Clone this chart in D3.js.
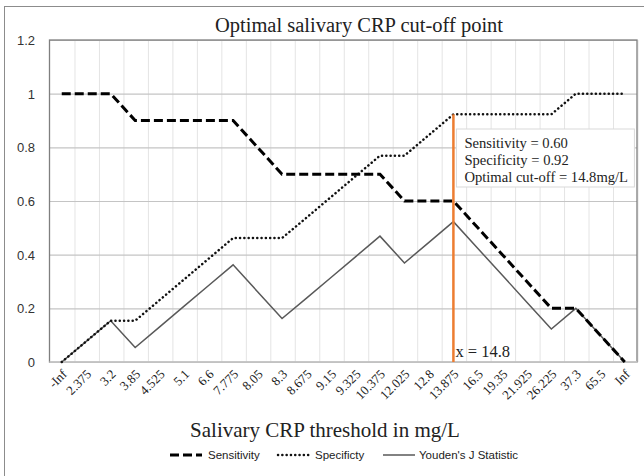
<!DOCTYPE html>
<html>
<head>
<meta charset="utf-8">
<script src="https://cdn.jsdelivr.net/npm/d3@7/dist/d3.min.js"></script>
<style>
  body { margin: 0; background: #fff; }
  .tick line { display: none; }
  .domain { display: none; }
</style>
</head>
<body>
<div id="chart"></div>
<script>
var width = 644;
var height = 476;

// thresholds (x axis categories)
var thresholds = ["-Inf", "2.375", "3.2", "3.85", "4.525", "5.1", "6.6", "7.775", "8.05", "8.3",
  "8.675", "9.15", "9.325", "10.375", "12.025", "12.8", "13.875", "16.5", "19.35", "21.925",
  "26.225", "37.3", "65.5", "Inf"];

var sensitivity = [1, 1, 1, 0.9, 0.9, 0.9, 0.9, 0.9, 0.8, 0.7, 0.7, 0.7, 0.7, 0.7, 0.6, 0.6,
  0.6, 0.5, 0.4, 0.3, 0.2, 0.2, 0.1, 0];

var specificity = [0, 0.077, 0.154, 0.154, 0.231, 0.308, 0.385, 0.462, 0.462, 0.462, 0.538,
  0.615, 0.692, 0.769, 0.769, 0.846, 0.923, 0.923, 0.923, 0.923, 0.923, 1, 1, 1];

var youden = [0, 0.077, 0.154, 0.054, 0.131, 0.208, 0.285, 0.362, 0.262, 0.162, 0.238, 0.315,
  0.392, 0.469, 0.369, 0.446, 0.523, 0.423, 0.323, 0.223, 0.123, 0.2, 0.1, 0];

var yTicks = [0, 0.2, 0.4, 0.6, 0.8, 1, 1.2];

var cutoffCategory = "13.875";
var cutoffSpec = 0.923;
var boxLines = ["Sensitivity = 0.60", "Specificity = 0.92", "Optimal cut-off = 14.8mg/L"];

var margin = {top: 40, right: 7, bottom: 114, left: 49.5};
var serif = "'Liberation Serif', 'Times New Roman', serif";
var sans = "'Liberation Sans', Arial, sans-serif";

var svg = d3.select('#chart')
    .append('svg')
    .attr("width", width)
    .attr("height", height);

// outer frame (cropped right/bottom like the picture)
svg.append("rect")
    .attr("x", 4.5).attr("y", 6.5)
    .attr("width", 700).attr("height", 600)
    .attr("fill", "none")
    .attr("stroke", "#8c8c8c")
    .attr("stroke-width", 1);

var x = d3.scaleBand()
    .domain(thresholds)
    .range([margin.left, width - margin.right])
    .paddingInner(0).paddingOuter(0);

var y = d3.scaleLinear()
    .domain([0, 1.2])
    .range([height - margin.bottom, margin.top]);

var cx = function(c) { return x(c) + x.bandwidth() / 2; };

/***** Grid lines *****/
var xGrid = d3.axisBottom(x)
    .tickSize(-(y(0) - y(1.2)))
    .tickFormat("");
var xg = svg.append('g')
    .attr("transform", "translate(" + (x.bandwidth() / 2 + 1) + "," + y(0) + ")")
    .call(xGrid);
xg.selectAll(".tick line").style("display", "inline").attr("stroke", "#e4e4e4");

var yGrid = d3.axisLeft(y)
    .tickValues(yTicks)
    .tickSize(-(width - margin.right - margin.left))
    .tickFormat("");
var yg = svg.append('g')
    .attr("transform", "translate(" + margin.left + ",0)")
    .call(yGrid);
yg.selectAll(".tick line").style("display", "inline").attr("stroke", "#c4c4c4").attr("stroke-width", 1.2);

// plot border
svg.append("rect")
    .attr("x", margin.left).attr("y", y(1.2))
    .attr("width", width - margin.right - margin.left)
    .attr("height", y(0) - y(1.2))
    .attr("fill", "none")
    .attr("stroke", "#7f7f7f")
    .attr("stroke-width", 1.3);
svg.append("line")
    .attr("x1", margin.left).attr("x2", width - margin.right)
    .attr("y1", y(0)).attr("y2", y(0))
    .attr("stroke", "#d0d0d0").attr("stroke-width", 1.5);

/***** Axes *****/
var yAxis = d3.axisLeft(y).tickValues(yTicks).tickFormat(function(d) { return d; }).tickSize(0);
var ya = svg.append('g')
    .attr("transform", "translate(35,0)")
    .call(yAxis);
ya.selectAll("text")
    .attr("x", 0)
    .attr("dy", "0.35em")
    .style("font-family", sans)
    .style("font-size", "13px")
    .attr("fill", "#333");

var xAxis = d3.axisBottom(x).tickSize(0);
var xa = svg.append('g')
    .attr("transform", "translate(0," + y(0) + ")")
    .call(xAxis);
xa.selectAll("text")
    .attr("y", 0)
    .attr("dy", 0)
    .attr("text-anchor", "end")
    .attr("transform", "translate(6,13) rotate(-45)")
    .style("font-family", serif)
    .style("font-size", "13px")
    .attr("fill", "#222");

/***** Lines *****/
var line = function(values) {
  return d3.line()
    .x(function(d, i) { return cx(thresholds[i]); })
    .y(function(d) { return y(d); })(values);
};

svg.append("path")
    .attr("d", line(youden))
    .attr("fill", "none")
    .attr("stroke", "#595959")
    .attr("stroke-width", 1.5);

svg.append("path")
    .attr("d", line(specificity))
    .attr("fill", "none")
    .attr("stroke", "#111")
    .attr("stroke-width", 2.5)
    .attr("stroke-linecap", "round")
    .attr("stroke-dasharray", "0.1,4.2");

svg.append("path")
    .attr("d", line(sensitivity))
    .attr("fill", "none")
    .attr("stroke", "#000")
    .attr("stroke-width", 3)
    .attr("stroke-dasharray", "9,4");

/***** Cut-off marker *****/
svg.append("line")
    .attr("x1", cx(cutoffCategory)).attr("x2", cx(cutoffCategory))
    .attr("y1", y(0)).attr("y2", y(cutoffSpec))
    .attr("stroke", "#ED7D31")
    .attr("stroke-width", 2.5);

svg.append("text")
    .attr("x", cx(cutoffCategory) + 2)
    .attr("y", y(0) - 5)
    .style("font-family", serif)
    .style("font-size", "16.5px")
    .attr("fill", "#222")
    .text("x = 14.8");

var box = svg.append("g").attr("transform", "translate(" + (cx(cutoffCategory) + 3) + "," + 129 + ")");
box.append("rect")
    .attr("width", 178).attr("height", 58)
    .attr("fill", "#fff")
    .attr("stroke", "#d9d9d9");
box.selectAll("text.box")
    .data(boxLines)
    .join("text")
    .attr("class", "box")
    .attr("x", 8)
    .attr("y", function(d, i) { return 19 + i * 17; })
    .style("font-family", serif)
    .style("font-size", "14.6px")
    .attr("fill", "#222")
    .text(function(d) { return d; });

/***** Titles *****/
svg.append("text")
    .attr("x", 359).attr("y", 32)
    .attr("text-anchor", "middle")
    .style("font-family", serif)
    .style("font-size", "20.5px")
    .attr("fill", "#222")
    .text("Optimal salivary CRP cut-off point");

svg.append("text")
    .attr("x", 325).attr("y", 437)
    .attr("text-anchor", "middle")
    .style("font-family", serif)
    .style("font-size", "21px")
    .attr("fill", "#222")
    .text("Salivary CRP threshold in mg/L");

/***** Legend *****/
var legendItems = [
  {name: "Sensitivity", x: 170, dash: "9,4", w: 3, color: "#000", cap: "butt", tx: 208},
  {name: "Specificty", x: 278, dash: "0.1,4.2", w: 2.5, color: "#111", cap: "round", tx: 315},
  {name: "Youden's J Statistic", x: 383, dash: null, w: 1.5, color: "#595959", cap: "butt", tx: 419}
];
var lg = svg.append("g").attr("transform", "translate(0,455)");
legendItems.forEach(function(it) {
  lg.append("line")
    .attr("x1", it.x).attr("x2", it.x + 32)
    .attr("y1", 0).attr("y2", 0)
    .attr("stroke", it.color)
    .attr("stroke-width", it.w)
    .attr("stroke-linecap", it.cap)
    .attr("stroke-dasharray", it.dash);
  lg.append("text")
    .attr("x", it.tx).attr("y", 4)
    .style("font-family", sans)
    .style("font-size", "11.5px")
    .attr("fill", "#222")
    .text(it.name);
});
</script>
</body>
</html>
